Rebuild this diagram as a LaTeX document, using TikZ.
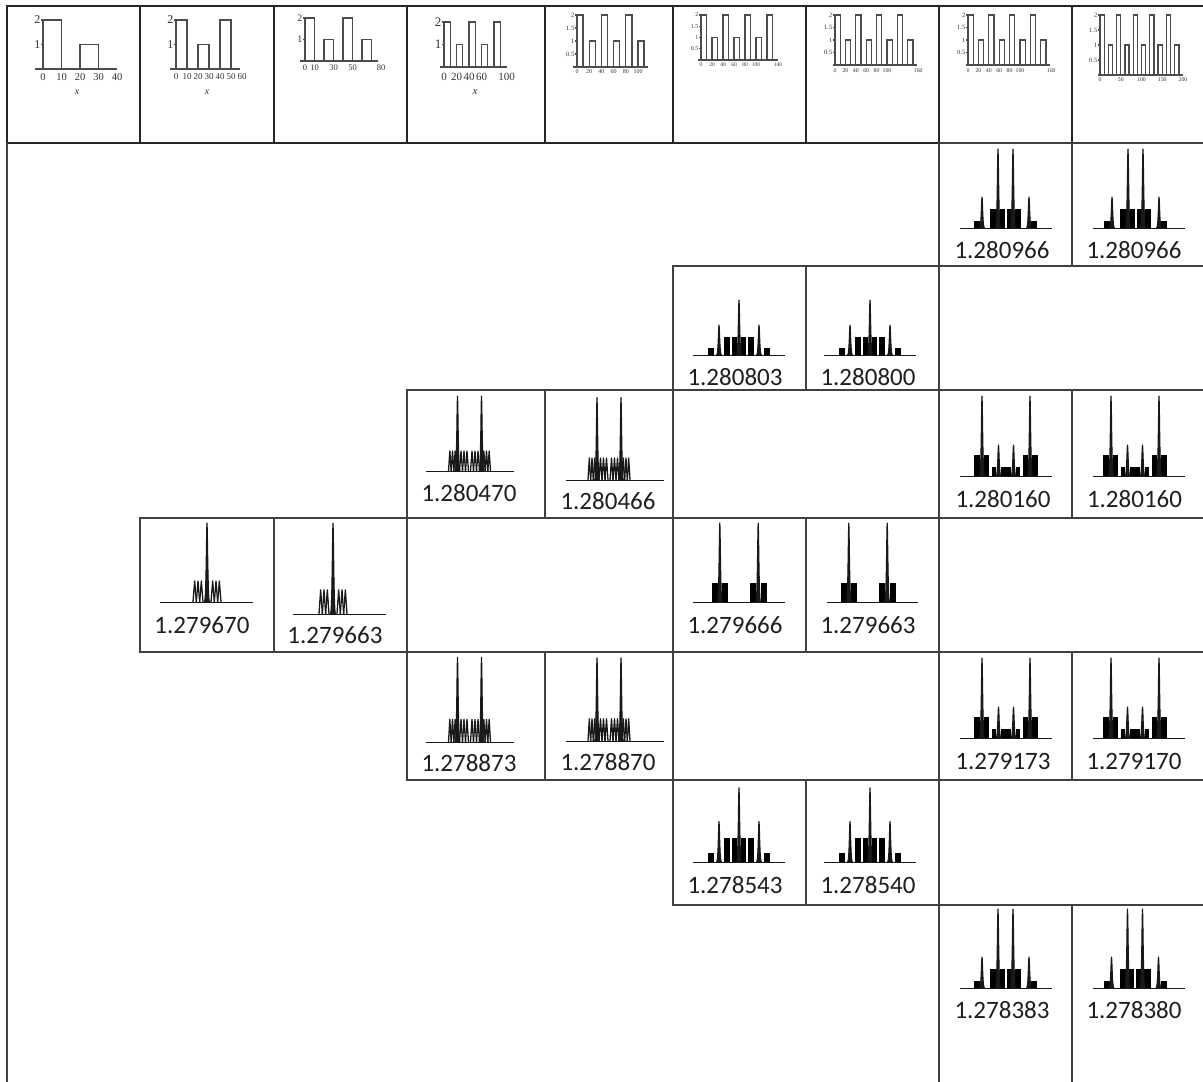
\documentclass[tikz,border=0pt]{standalone}
\usepackage{fontspec}
\newfontfamily\valfont{Carlito}
\newfontfamily\axfont{Liberation Serif}
\newcommand\tcell[6]{\node[#6, minimum width={(#4-#2)*1pt}, minimum height={(#5-#3)*1pt}] (#1) at ({(#2+#4)/2},{(#3+#5)/2}) {};}
\newcommand\spk[3]{\filldraw[spec, fill=black!90] ({#1-#3},0) .. controls ({#1-0.3*#3},0) and ({#1-0.25*#3},#2) .. (#1,#2) .. controls ({#1+0.25*#3},#2) and ({#1+0.3*#3},0) .. ({#1+#3},0);}
\newcommand\blk[3]{\fill[specfill] (#1,0) rectangle (#2,#3);}
\newcommand\osc[4]{\pgfmathsetmacro\oscw{(#2-(#1))/#3}\foreach \k in {1,...,#3}{\draw[spec,line width=1.3pt] ({#1+(\k-1)*\oscw},0) -- ({#1+(\k-0.5)*\oscw},#4) -- ({#1+\k*\oscw},0);}}
% spectra: #1 centre x, #2 baseline y, #3 vertical scale, #4 #5 baseline ends
\newcommand\specA[5]{\begin{scope}[shift={(#1,#2)},yscale=-#3]
\draw[spec] (#4,0) -- (#5,0);
\blk{-31.5}{-25.5}{7}\blk{-15.5}{-9}{19}\blk{-6}{-1}{19}\blk{1}{6}{19}\blk{9}{15.5}{19}\blk{25.5}{31.5}{7}
\spk{-23.5}{31}{2.4}\spk{-7.5}{79}{2.4}\spk{7.5}{79}{2.4}\spk{23.5}{31}{2.4}
\end{scope}}
\newcommand\specB[5]{\begin{scope}[shift={(#1,#2)},yscale=-#3]
\draw[spec] (#4,0) -- (#5,0);
\blk{-31}{-25}{7}\blk{-15}{-9}{18}\blk{-7}{-2}{18}\blk{2}{7}{18}\blk{9}{15}{18}\blk{25}{31}{7}
\spk{-20}{30}{2.4}\spk{0}{55}{2.4}\spk{20}{30}{2.4}
\end{scope}}
\newcommand\specC[5]{\begin{scope}[shift={(#1,#2)},yscale=-#3]
\draw[spec] (#4,0) -- (#5,0);
\osc{-21}{-13}{3}{20}\osc{-10}{-1}{3}{20}\osc{1}{10}{3}{20}\osc{13}{21}{3}{20}
\spk{-12}{75}{2.4}\spk{12}{75}{2.4}
\end{scope}}
\newcommand\specD[5]{\begin{scope}[shift={(#1,#2)},yscale=-#3]
\draw[spec] (#4,0) -- (#5,0);
\osc{-14}{-4}{3}{21}\osc{4}{14}{3}{21}\spk{0}{79}{2.6}
\end{scope}}
\newcommand\specE[5]{\begin{scope}[shift={(#1,#2)},yscale=-#3]
\draw[spec] (#4,0) -- (#5,0);
\blk{-27.5}{-21.5}{19}\blk{-17}{-11}{19}\blk{11}{17}{19}\blk{21.5}{27.5}{19}
\spk{-19.2}{79}{2.4}\spk{19.2}{79}{2.4}
\end{scope}}
\newcommand\specF[5]{\begin{scope}[shift={(#1,#2)},yscale=-#3]
\draw[spec] (#4,0) -- (#5,0);
\blk{-32}{-26}{21}\blk{-22}{-17}{21}\blk{17}{22}{21}\blk{26}{32}{21}
\blk{-14}{-10}{9}\blk{-5}{5}{9}\blk{10}{14}{9}
\spk{-24}{80}{2.4}\spk{-7.5}{31}{2.4}\spk{7.5}{31}{2.4}\spk{24}{80}{2.4}
\end{scope}}
% header bar plots: #1 x0, #2 y0, #3 ux, #4 uy, #5 bars, #6 axis start, #7 axis end
\newcommand\hplot[7]{\draw[hbar] (#6,#2) -- (#7,#2);
\foreach \k in {1,...,#5}{\pgfmathsetmacro\hh{ifthenelse(mod(\k,2)==1,2,1)*#4}
\draw[hbar] ({#1+(\k-1)*20*#3},#2) -- ++(0,-\hh) -- ++({10*#3},0) -- ++(0,\hh);}}
% #1 prefix, #2 x0, #3 ux, #4 y, #5 size, #6 list
\newcommand\xlabels[6]{\foreach \v [count=\i] in {#6}{\node[ax, font=\axfont\fontsize{#5}{#5}\selectfont] (#1x\i) at ({#2+\v*#3},#4) {\v};}}
% #1 prefix, #2 x0, #3 y0, #4 uy, #5 size, #6 list
\newcommand\ylabels[6]{\foreach \v [count=\i] in {#6}{\node[ax, anchor=east, font=\axfont\fontsize{#5}{#5}\selectfont] (#1y\i) at ({#2-2.5},{#3-\v*#4}) {\v};
\draw[hbar] ({#2-1.8},{#3-\v*#4}) -- (#2,{#3-\v*#4});}}
\begin{document}
\begin{tikzpicture}[x=1pt,y=-1pt,
  cellbox/.style={draw=black!75, line width=1.4pt, inner sep=0pt, outer sep=0pt},
  hdrbox/.style={draw=black!85, line width=1.9pt, inner sep=0pt, outer sep=0pt},
  spec/.style={draw=black!90, line width=1pt, line join=round},
  specfill/.style={fill=black},
  hbar/.style={draw=black!70, line width=1.3pt},
  ax/.style={inner sep=0pt, text=black!80},
  val/.style={font=\valfont\fontsize{25}{29}\selectfont, text=black!88, anchor=base, inner sep=0pt}]
\useasboundingbox (0,0) rectangle (1203,1082);
\clip (0,0) rectangle (1203,1082);
\fill[white] (0,0) rectangle (1203,1082);
% header cells
\tcell{h1}{7}{6}{140}{143}{hdrbox}
\tcell{h2}{140}{6}{274}{143}{hdrbox}
\tcell{h3}{274}{6}{407}{143}{hdrbox}
\tcell{h4}{407}{6}{545}{143}{hdrbox}
\tcell{h5}{545}{6}{673}{143}{hdrbox}
\tcell{h6}{673}{6}{806}{143}{hdrbox}
\tcell{h7}{806}{6}{939}{143}{hdrbox}
\tcell{h8}{939}{6}{1072}{143}{hdrbox}
\tcell{h9}{1072}{6}{1212}{143}{hdrbox}
% outer left border
\coordinate (lt) at (7,143);
\coordinate (lb) at (7,1090);
\draw[cellbox] (lt) -- (lb);
% body cells
\tcell{c1a}{939}{143}{1072}{266}{cellbox}
\tcell{c1b}{1072}{143}{1212}{266}{cellbox}
\tcell{c2a}{673}{266}{806}{390}{cellbox}
\tcell{c2b}{806}{266}{939}{390}{cellbox}
\tcell{c3a}{407}{390}{545}{518}{cellbox}
\tcell{c3b}{545}{390}{673}{518}{cellbox}
\tcell{c3c}{939}{390}{1072}{518}{cellbox}
\tcell{c3d}{1072}{390}{1212}{518}{cellbox}
\tcell{c4a}{140}{518}{274}{652}{cellbox}
\tcell{c4b}{274}{518}{407}{652}{cellbox}
\tcell{c4c}{673}{518}{806}{652}{cellbox}
\tcell{c4d}{806}{518}{939}{652}{cellbox}
\tcell{c5a}{407}{652}{545}{780}{cellbox}
\tcell{c5b}{545}{652}{673}{780}{cellbox}
\tcell{c5c}{939}{652}{1072}{780}{cellbox}
\tcell{c5d}{1072}{652}{1212}{780}{cellbox}
\tcell{c6a}{673}{780}{806}{905}{cellbox}
\tcell{c6b}{806}{780}{939}{905}{cellbox}
\tcell{c7a}{939}{905}{1072}{1092}{cellbox}
\tcell{c7b}{1072}{905}{1212}{1092}{cellbox}
% header plots
\hplot{43}{69}{1.85}{24.5}{2}{35}{117}
\ylabels{p1}{43}{69}{24.5}{12}{2,1}
\xlabels{p1}{43}{1.85}{77}{10.5}{0,10,20,30,40}
\node[ax, font=\axfont\itshape\fontsize{10}{10}\selectfont] (p1v) at (77,92) {x};
\hplot{176}{69}{1.1}{24.5}{3}{170}{240}
\ylabels{p2}{176}{69}{24.5}{12}{2,1}
\xlabels{p2}{176}{1.1}{77}{9}{0,10,20,30,40,50,60}
\node[ax, font=\axfont\itshape\fontsize{10}{10}\selectfont] (p2v) at (207,92) {x};
\hplot{305}{61}{0.95}{21.5}{4}{300}{378}
\ylabels{p3}{305}{61}{21.5}{10}{2,1}
\xlabels{p3}{305}{0.95}{68}{8.5}{0,10,30,50,80}
\hplot{444}{67}{0.625}{22.5}{5}{440}{507}
\ylabels{p4}{444}{67}{22.5}{13}{2,1}
\xlabels{p4}{444}{0.625}{77}{11}{0,20,40,60,100}
\node[ax, font=\axfont\itshape\fontsize{11}{11}\selectfont] (p4v) at (475,92) {x};
\hplot{577}{67}{0.61}{26}{6}{573}{648}
\ylabels{p5}{577}{67}{26}{6.5}{2,1.5,1,0.5}
\xlabels{p5}{577}{0.61}{72}{6}{0,20,40,60,80,100}
\hplot{701}{60}{0.55}{22.5}{7}{698}{778}
\ylabels{p6}{701}{60}{22.5}{6}{2,1.5,1,0.5}
\xlabels{p6}{701}{0.55}{65}{5.5}{0,20,40,60,80,100,140}
\hplot{835}{65}{0.52}{25}{8}{833}{917}
\ylabels{p7}{835}{65}{25}{6.5}{2,1.5,1,0.5}
\xlabels{p7}{835}{0.52}{71}{5.8}{0,20,40,60,80,100,160}
\hplot{968}{65}{0.52}{25}{8}{966}{1050}
\ylabels{p8}{968}{65}{25}{6.5}{2,1.5,1,0.5}
\xlabels{p8}{968}{0.52}{71}{5.8}{0,20,40,60,80,100,160}
\hplot{1100}{75}{0.415}{30}{10}{1098}{1183}
\ylabels{p9}{1100}{75}{30}{6.5}{2,1.5,1,0.5}
\xlabels{p9}{1100}{0.415}{80}{5.8}{0,50,100,150,200}
% spectra
\specA{1005.5}{228}{1}{-45.5}{46.5}
\specA{1135.5}{228}{1}{-42.5}{49.5}
\specB{739}{355}{1}{-46}{46}
\specB{870}{355}{1}{-46}{46}
\specC{469.5}{471}{1}{-43.5}{44.5}
\specC{609}{480}{1.1}{-43}{55}
\specF{1006}{476}{1}{-46}{46}
\specF{1135}{476}{1}{-42}{50}
\specD{207}{602}{1}{-47}{46}
\specD{333}{614}{1.15}{-40}{53}
\specE{739}{602}{1}{-46}{46}
\specE{868}{602}{1}{-41}{50}
\specC{469.5}{742}{1.13}{-43.5}{44.5}
\specC{609}{741}{1.11}{-43}{55}
\specF{1006}{738}{1}{-46}{46}
\specF{1135}{738}{1}{-42}{50}
\specB{739}{862}{1.35}{-46}{46}
\specB{870}{862}{1.35}{-46}{46}
\specA{1005.5}{988}{1}{-45.5}{46.5}
\specA{1135}{988}{1}{-42}{50}
% values
\node[val] (v1a) at (1002,258) {1.280966};
\node[val] (v1b) at (1134,258) {1.280966};
\node[val] (v2a) at (735,385) {1.280803};
\node[val] (v2b) at (868,385) {1.280800};
\node[val] (v3a) at (469,501) {1.280470};
\node[val] (v3b) at (608,509) {1.280466};
\node[val] (v3c) at (1003,507) {1.280160};
\node[val] (v3d) at (1134.5,507) {1.280160};
\node[val] (v4a) at (202,633) {1.279670};
\node[val] (v4b) at (335,643) {1.279663};
\node[val] (v4c) at (735,633) {1.279666};
\node[val] (v4d) at (868,633) {1.279663};
\node[val] (v5a) at (469,771) {1.278873};
\node[val] (v5b) at (608,770) {1.278870};
\node[val] (v5c) at (1003,769) {1.279173};
\node[val] (v5d) at (1134,769) {1.279170};
\node[val] (v6a) at (735,893) {1.278543};
\node[val] (v6b) at (868,893) {1.278540};
\node[val] (v7a) at (1002,1018) {1.278383};
\node[val] (v7b) at (1134,1018) {1.278380};
\end{tikzpicture}
\end{document}
